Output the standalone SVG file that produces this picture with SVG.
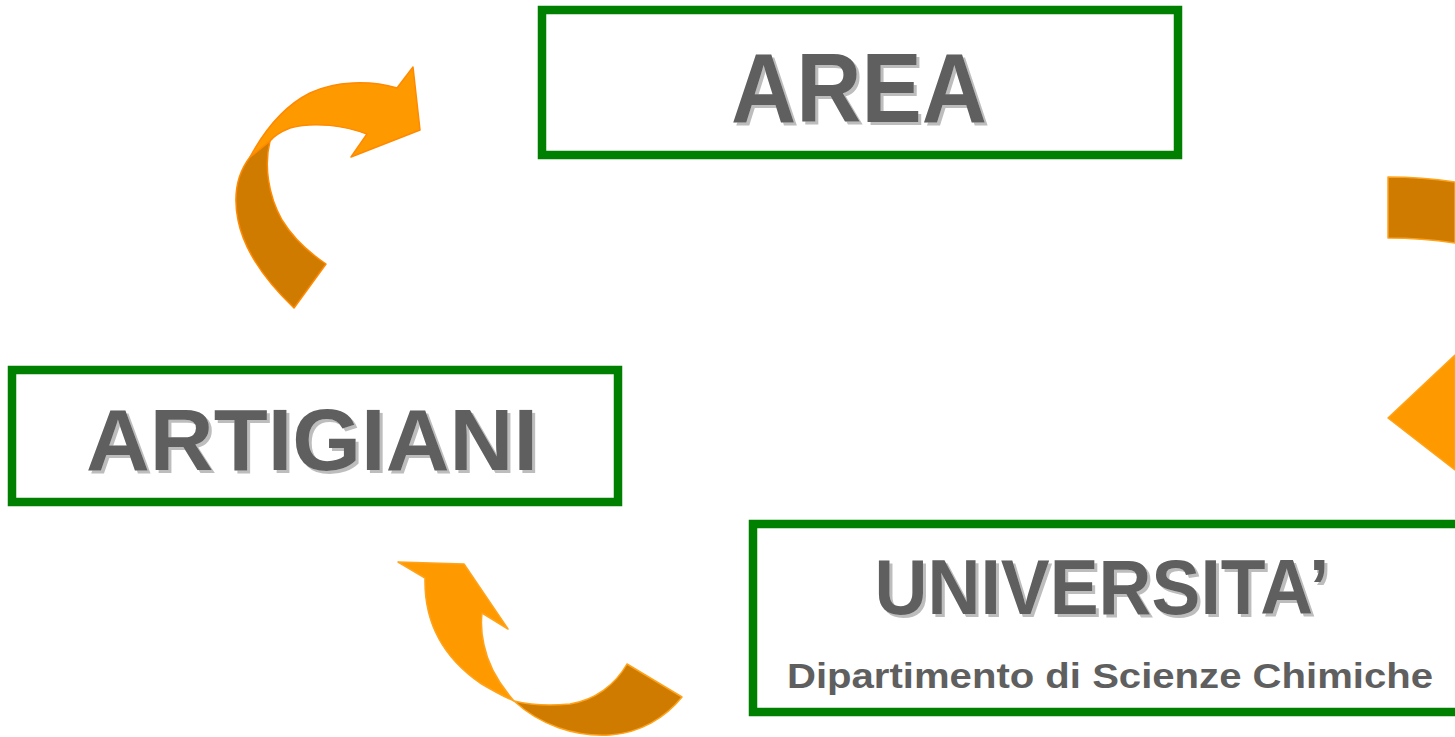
<svg xmlns="http://www.w3.org/2000/svg" width="1455" height="737" viewBox="0 0 1455 737">
<defs>
<filter id="shadow" x="-5%" y="-10%" width="115%" height="130%">
  <feFlood flood-color="#bdbdbd"/>
  <feComposite in2="SourceAlpha" operator="in"/>
  <feOffset dx="3" dy="3" result="s"/>
  <feMerge><feMergeNode in="s"/><feMergeNode in="SourceGraphic"/></feMerge>
</filter>
</defs>
<style>
.box{fill:#fff;stroke:#008000;stroke-width:8.5}
.t{font-family:"Liberation Sans",Arial,sans-serif;font-weight:bold;fill:#5f5f5f;text-anchor:middle;filter:url(#shadow)}
.sub{font-family:"Liberation Sans",Arial,sans-serif;font-weight:bold;fill:#5f5f5f;text-anchor:middle}
.lt{fill:#ff9900;stroke:#ff8a00;stroke-width:1.5;stroke-linejoin:round}
.dk{fill:#cf7b00;stroke:#ff8a00;stroke-width:1.5;stroke-linejoin:round}
.lt2{fill:#ff9900;stroke:#ffa31a;stroke-width:1.5;stroke-linejoin:round}
.dk2{fill:#cf7b00;stroke:#ffa31a;stroke-width:1.5;stroke-linejoin:round}
</style>
<rect width="1455" height="737" fill="#fff"/>
<g id="connectors">
  <g id="arrow-artigiani-area">
    <path class="dk" d="M294,308 C270,285 245,255 238,220 C232,190 240,170 250,157 L270,141 C264,165 268,195 282,220 C293,238 308,252 326,264 Z"/>
    <path class="lt" d="M250,157 C262,135 280,108 310,93 C335,81 370,80 397,88 L413,67 L420,130 L351,157 L367,134 C345,126 315,121 290,128 C280,132 274,136 270,141 Z"/>
  </g>
  <g id="arrow-universita-artigiani">
    <path class="dk2" d="M514,701 C540,725 575,737 610,735 C640,733 665,718 682,697 L627,664 C615,685 595,700 570,704 C550,706 530,705 514,701 Z"/>
    <path class="lt2" d="M425,578 C424,620 440,655 480,683 C495,692 505,697 514,701 C500,685 488,665 484,645 C481,632 481,622 482,613 L508,629 L464,564 L398,562 Z"/>
  </g>
  <g id="arrow-area-universita">
    <path class="dk2" d="M1388,177 C1410,177 1435,179 1455,182 L1455,243 C1435,240 1410,238 1388,238 Z"/>
    <path class="lt2" d="M1388,418 L1455,355 L1455,470 Z"/>
  </g>
</g>
<g id="node-area">
  <rect class="box" x="542" y="10" width="636" height="145"/>
  <text class="t" x="859" y="122" font-size="98" textLength="256" lengthAdjust="spacingAndGlyphs">AREA</text>
</g>
<g id="node-artigiani">
  <rect class="box" x="12" y="370" width="606" height="132"/>
  <text class="t" x="312" y="470" font-size="87" textLength="452" lengthAdjust="spacingAndGlyphs">ARTIGIANI</text>
</g>
<g id="node-universita">
  <rect class="box" x="753" y="524" width="760" height="188"/>
  <text class="t" x="1102" y="614" font-size="77" textLength="455" lengthAdjust="spacingAndGlyphs">UNIVERSITA’</text>
  <text class="sub" x="1110" y="688" font-size="35" textLength="646" lengthAdjust="spacingAndGlyphs">Dipartimento di Scienze Chimiche</text>
</g>
</svg>
